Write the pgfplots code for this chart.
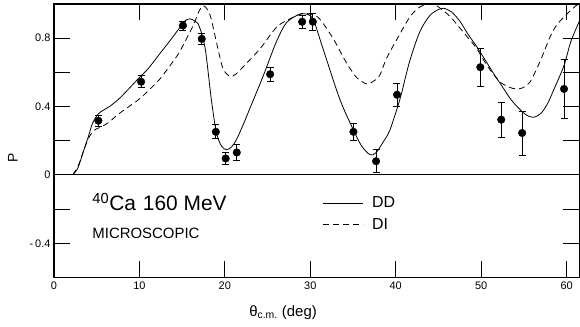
\documentclass[border=0pt]{standalone}
\usepackage{fontspec}
\setmainfont{Liberation Sans}
\usepackage{pgfplots}
\usepackage{pgfplotstable}
\pgfplotsset{compat=1.18}

\pgfplotstableread{
x y e
5.2 0.317 0.032
10.2 0.545 0.035
15.1 0.874 0.026
17.3 0.796 0.034
18.95 0.252 0.041
20.1 0.096 0.035
21.4 0.131 0.046
25.3 0.589 0.040
29.05 0.896 0.037
30.3 0.896 0.049
35.05 0.252 0.049
37.7 0.080 0.068
40.15 0.469 0.067
49.9 0.630 0.110
52.35 0.323 0.103
54.8 0.245 0.129
59.7 0.503 0.172
}\datatable

\begin{document}
\begin{tikzpicture}
\begin{axis}[
  scale only axis, width=526bp, height=273.7bp,
  xmin=0, xmax=61.5, ymin=-0.6, ymax=1.0,
  axis line style={line width=1.2bp},
  every tick/.style={line width=0.9bp, black},
  major tick length=16bp,
  tick align=inside,
  xtick={0,10,20,30,40,50,60},
  xticklabels={0,10,20,30,40,50,60},
  ytick={-0.4,-0.2,0,0.2,0.4,0.6,0.8},
  yticklabels={-\,0.4,,0,,0.4,,0.8},
  tick label style={font=\fontsize{11}{12}\selectfont},
  xticklabel style={yshift=-1bp},
  xlabel={θ\textsubscript{c.m.} (deg)},
  xlabel style={at={(axis description cs:0.436,0)}, anchor=north, yshift=-25bp, font=\fontsize{15}{17}\selectfont},
  ylabel={P},
  ylabel style={at={(axis description cs:-0.078,0.437)}, anchor=center, font=\fontsize{14}{16}\selectfont},
  legend style={at={(axis description cs:0.505,0.31)}, anchor=north west, draw=none, fill=none,
    font=\fontsize{16}{18}\selectfont, row sep=5bp},
  legend cell align=left,
  legend image code/.code={\draw[#1] (0bp,0bp) -- (40bp,0bp); \path (47bp,0bp);},
]
% zero line
\addplot[black, line width=0.9bp, forget plot] coordinates {(0,0) (61.5,0)};

% DD (solid)
\addplot[black, line width=0.8bp, smooth, tension=0.5] coordinates {
(2.2,0) (2.8,0.04) (3.4,0.13) (4.0,0.22) (4.5,0.30) (5.0,0.345) (5.5,0.37) (6.5,0.40) (7.5,0.44) (8.5,0.49)
(10.0,0.57) (11.0,0.62) (12.4,0.71) (13.5,0.78) (14.7,0.86) (15.3,0.90) (15.9,0.913) (16.5,0.90) (17.0,0.87)
(17.7,0.74) (18.4,0.45) (19.0,0.25) (19.6,0.17) (20.2,0.147) (20.8,0.165) (21.4,0.21) (22.2,0.30) (22.9,0.385)
(24.5,0.58) (26.0,0.775) (27.2,0.89) (28.6,0.937) (29.3,0.943) (30.3,0.913) (31.5,0.737) (33.45,0.444)
(35.0,0.268) (36.0,0.17) (37.0,0.118) (37.7,0.13) (38.5,0.19) (39.3,0.26) (40.5,0.444) (41.6,0.659)
(42.8,0.835) (44.0,0.933) (45.1,0.97) (45.6,0.975) (46.5,0.955) (47.5,0.90) (48.5,0.82) (49.4,0.757)
(50.5,0.67) (51.5,0.59) (52.5,0.515) (53.5,0.44) (54.5,0.385) (55.3,0.35) (56.1,0.337) (57.0,0.36)
(57.8,0.42) (58.6,0.51) (59.7,0.64) (60.5,0.78) (61.5,0.90)
};
\addlegendentry{DD}

% DI (dashed)
\addplot[black, line width=0.8bp, dash pattern=on 6bp off 4bp, smooth, tension=0.5] coordinates {
(2.2,0) (2.8,0.05) (3.4,0.13) (4.0,0.21) (4.5,0.25) (5.0,0.27) (5.5,0.28) (6.5,0.31) (7.3,0.346) (8.5,0.39)
(10.0,0.444) (11.2,0.50) (12.4,0.561) (13.6,0.64) (14.7,0.718) (15.1,0.757) (16.3,0.874) (17.0,0.96)
(17.5,0.99) (18.0,0.965) (18.4,0.913) (19.2,0.737) (19.8,0.62) (20.6,0.577) (21.3,0.59) (22.1,0.63)
(24.1,0.737) (26.05,0.864) (27.6,0.913) (28.8,0.94) (29.6,0.945) (30.3,0.935) (31.1,0.913) (32.7,0.796)
(34.2,0.659) (35.4,0.571) (36.6,0.532) (37.3,0.545) (38.1,0.58) (38.9,0.679) (40.1,0.79) (41.6,0.92)
(42.6,0.975) (43.2,0.991) (44.0,1.0) (44.8,0.99) (46.3,0.93) (47.5,0.86) (48.5,0.80) (49.4,0.745)
(50.5,0.655) (51.4,0.59) (52.3,0.54) (53.3,0.513) (54.1,0.503) (54.9,0.51) (55.7,0.542) (56.5,0.62)
(57.2,0.70) (58.0,0.80) (58.8,0.874) (59.95,0.937) (61.1,0.99) (61.5,1.0)
};
\addlegendentry{DI}

% data
\addplot[black, only marks, mark=*, mark size=3.8bp, mark options={fill=black},
  error bars/.cd, y dir=both, y explicit,
  error bar style={line width=0.8bp, black},
  error mark options={rotate=90, mark size=3.5bp, line width=0.8bp, black}]
  table[x=x, y=y, y error=e] {\datatable};

\node[anchor=west, font=\fontsize{21}{24}\selectfont] at (axis cs:4.1,-0.16) {\textsuperscript{40}Ca\,\,160 MeV};
\node[anchor=west, font=\fontsize{15}{18}\selectfont] at (axis cs:4.1,-0.345) {MICROSCOPIC};
\end{axis}
\pgfresetboundingbox
\path ([shift={(-54bp,-49.3bp)}]current axis.south west) rectangle ([shift={(0.6bp,4bp)}]current axis.north east);
\end{tikzpicture}
\end{document}
